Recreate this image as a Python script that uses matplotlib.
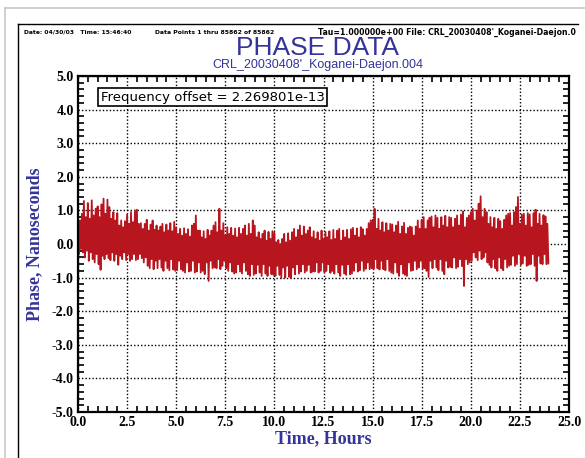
import numpy as np
import matplotlib
matplotlib.use("Agg")
import matplotlib.pyplot as plt
from matplotlib.ticker import MultipleLocator

# ---------------- data ----------------
x_ticks = [0.0, 2.5, 5.0, 7.5, 10.0, 12.5, 15.0, 17.5, 20.0, 22.5, 25.0]
y_ticks = [5.0, 4.0, 3.0, 2.0, 1.0, 0.0, -1.0, -2.0, -3.0, -4.0, -5.0]

# upper excursions of the phase trace, every 0.1 h (one row per hour), ns
spike_hi = [
    0.95, 0.70, 0.90, 1.28, 0.80, 1.22, 0.75, 1.30, 0.85, 1.05,
    1.12, 0.80, 1.18, 1.35, 0.90, 1.32, 1.10, 0.75, 0.95, 0.70,
    0.92, 0.55, 0.70, 0.50, 0.68, 0.88, 0.60, 0.95, 0.65, 1.00,
    1.02, 0.60, 0.62, 0.45, 0.60, 0.72, 0.40, 0.58, 0.70, 0.42,
    0.55, 0.40, 0.52, 0.60, 0.35, 0.58, 0.40, 0.62, 0.38, 0.66,
    0.50, 0.30, 0.45, 0.25, 0.47, 0.30, 0.44, 0.22, 0.55, 0.60,
    0.85, 0.40, 0.40, 0.20, 0.38, 0.15, 0.42, 0.25, 0.40, 0.55,
    0.65, 0.35, 1.05, 0.40, 0.62, 0.25, 0.50, 0.30, 0.48, 0.25,
    0.46, 0.20, 0.48, 0.30, 0.45, 0.55, 0.25, 0.60, 0.30, 0.70,
    0.55, 0.20, 0.35, 0.15, 0.30, 0.40, 0.10, 0.36, 0.15, 0.38,
    0.34, 0.05, 0.12, 0.00, 0.15, 0.30, 0.05, 0.32, 0.10, 0.35,
    0.45, 0.20, 0.42, 0.55, 0.25, 0.52, 0.30, 0.40, 0.50, 0.20,
    0.38, 0.15, 0.35, 0.10, 0.40, 0.15, 0.36, 0.20, 0.38, 0.12,
    0.42, 0.15, 0.40, 0.45, 0.10, 0.40, 0.20, 0.42, 0.15, 0.44,
    0.48, 0.25, 0.46, 0.20, 0.50, 0.44, 0.25, 0.45, 0.62, 0.70,
    0.72, 1.05, 0.45, 0.75, 0.40, 0.65, 0.35, 0.62, 0.40, 0.60,
    0.58, 0.35, 0.55, 0.66, 0.30, 0.52, 0.63, 0.30, 0.48, 0.52,
    0.50, 0.25, 0.52, 0.70, 0.45, 0.72, 0.80, 0.45, 0.70, 0.78,
    0.82, 0.50, 0.85, 0.78, 0.45, 0.80, 0.55, 0.84, 0.50, 0.80,
    0.78, 0.50, 0.75, 0.85, 0.55, 0.88, 0.97, 0.50, 0.78, 0.85,
    0.95, 1.05, 0.70, 1.00, 1.20, 1.42, 0.80, 1.05, 0.95, 0.60,
    0.80, 0.50, 0.78, 0.45, 0.75, 0.68, 0.45, 0.72, 0.85, 0.90,
    0.92, 0.55, 0.95, 1.10, 1.40, 0.60, 0.88, 0.90, 0.55, 0.92,
    0.88, 0.50, 0.92, 1.02, 0.60, 0.90, 0.55, 0.86, 0.82, 0.60,
]
# lower excursions, every 0.1 h (one row per hour), ns
spike_lo = [
    -0.30, -0.15, -0.25, -0.40, -0.20, -0.50, -0.25, -0.45, -0.55, -0.30,
    -0.60, -0.77, -0.35, -0.45, -0.30, -0.42, -0.48, -0.25, -0.50, -0.30,
    -0.62, -0.35, -0.45, -0.25, -0.48, -0.30, -0.50, -0.45, -0.30, -0.48,
    -0.45, -0.30, -0.42, -0.55, -0.40, -0.65, -0.72, -0.45, -0.75, -0.50,
    -0.72, -0.45, -0.70, -0.80, -0.50, -0.72, -0.78, -0.45, -0.76, -0.80,
    -0.78, -0.50, -0.75, -0.80, -0.85, -0.55, -0.82, -0.80, -0.50, -0.85,
    -0.82, -0.55, -0.85, -0.80, -0.90, -0.55, -1.10, -0.50, -0.72, -0.70,
    -0.72, -0.45, -0.75, -0.65, -0.50, -0.72, -0.80, -0.55, -0.82, -0.88,
    -0.85, -0.60, -0.82, -0.88, -0.55, -0.80, -0.90, -0.95, -0.60, -0.92,
    -0.88, -0.62, -0.85, -0.95, -0.60, -0.88, -0.95, -0.65, -0.90, -0.92,
    -0.95, -0.65, -0.92, -1.02, -0.70, -1.00, -0.65, -0.98, -1.02, -0.70,
    -0.90, -0.60, -0.88, -0.82, -0.60, -0.85, -0.80, -0.62, -0.85, -0.82,
    -0.82, -0.55, -0.85, -0.80, -0.55, -0.84, -0.80, -0.60, -0.86, -0.80,
    -0.88, -0.60, -0.85, -0.95, -0.62, -0.88, -0.92, -0.60, -0.90, -0.88,
    -0.80, -0.55, -0.82, -0.78, -0.50, -0.80, -0.74, -0.55, -0.75, -0.72,
    -0.74, -0.45, -0.72, -0.76, -0.50, -0.75, -0.78, -0.45, -0.80, -0.85,
    -0.88, -0.55, -0.85, -0.95, -0.60, -0.88, -0.92, -0.95, -0.55, -0.80,
    -0.78, -0.50, -0.75, -0.70, -0.50, -0.74, -0.72, -0.80, -0.98, -0.50,
    -0.72, -0.45, -0.70, -0.78, -0.45, -0.80, -0.90, -0.50, -0.70, -0.68,
    -0.70, -0.40, -0.72, -0.68, -0.45, -0.66, -1.25, -0.45, -0.60, -0.55,
    -0.50, -0.25, -0.40, -0.48, -0.20, -0.45, -0.40, -0.25, -0.55, -0.62,
    -0.70, -0.45, -0.72, -0.80, -0.40, -0.72, -0.78, -0.45, -0.70, -0.65,
    -0.62, -0.35, -0.65, -0.60, -0.30, -0.62, -0.58, -0.35, -0.65, -0.62,
    -0.60, -0.30, -0.65, -1.10, -0.35, -0.58, -0.60, -0.30, -0.60, -0.58,
]
sample_t = np.arange(len(spike_hi)) * 0.1  # sample times, hours

header_left = "Date: 04/30/03   Time: 15:46:40"
header_mid = "Data Points 1 thru 85862 of 85862"
header_right = "Tau=1.000000e+00 File: CRL_20030408'_Koganei-Daejon.0"
title = "PHASE DATA"
subtitle = "CRL_20030408'_Koganei-Daejon.004"
offset_label = "Frequency offset = 2.269801e-13"

# trace: alternate each upper excursion with the following lower one
trace_t = np.column_stack([sample_t, sample_t + 0.05]).ravel()
trace_v = np.column_stack([spike_hi, spike_lo]).ravel()

# ---------------- drawing ----------------
W, H = 585, 458
fig = plt.figure(figsize=(W / 100, H / 100), dpi=100)
fig.patch.set_facecolor("white")

# page frame
fig.add_artist(plt.Line2D([5 / W, 584 / W], [1 - 8 / H, 1 - 8 / H], color="#c8c8c8", lw=1.2))
fig.add_artist(plt.Line2D([5 / W, 5 / W], [0, 1 - 8 / H], color="#c8c8c8", lw=1.2))
fig.add_artist(plt.Line2D([18 / W, 18 / W], [0, 1 - 24 / H], color="black", lw=1.0))
fig.add_artist(plt.Line2D([18 / W, 578 / W], [1 - 24 / H, 1 - 24 / H], color="black", lw=1.0))

blue = "#34349a"
red = "#b8161f"

ax = fig.add_axes([78 / W, 1 - 412 / H, (569 - 78) / W, (412 - 76) / H])
ax.set_xlim(0, 25)
ax.set_ylim(-5, 5)

ax.plot(trace_t, trace_v, color=red, lw=1.3, zorder=3)

ax.set_xticks(x_ticks)
ax.set_yticks(y_ticks)
ax.set_xticklabels([f"{v:.1f}" for v in x_ticks])
ax.set_yticklabels([f"{v:.1f}" for v in y_ticks])
ax.xaxis.set_minor_locator(MultipleLocator(0.5))
ax.yaxis.set_minor_locator(MultipleLocator(0.2))
ax.tick_params(which="both", direction="in", top=True, right=True, width=1.2, colors="black")
ax.tick_params(which="major", length=0, pad=3)
ax.tick_params(which="minor", length=4)
for lab in ax.get_xticklabels() + ax.get_yticklabels():
    lab.set_fontfamily("Liberation Serif")
    lab.set_fontweight("bold")
    lab.set_fontsize(10)
ax.grid(True, which="major", color="black", linestyle=(0, (1, 1.5)), lw=1.0, zorder=1)
for s in ax.spines.values():
    s.set_linewidth(1.6)
    s.set_zorder(5)

ax.set_xlabel("Time, Hours", fontfamily="Liberation Serif", fontweight="bold",
              fontsize=13, color=blue, labelpad=1)
ax.set_ylabel("Phase, Nanoseconds", fontfamily="Liberation Serif", fontweight="bold",
              fontsize=13, color=blue, labelpad=6)

ax.text(0.046, 0.9375, offset_label, transform=ax.transAxes, fontsize=9.5,
        fontfamily="DejaVu Sans", va="center", ha="left", zorder=6,
        bbox=dict(boxstyle="square,pad=0.2", fc="white", ec="black", lw=1.2))

# header and titles
fig.text(24 / W, 1 - 32 / H, header_left, fontsize=4.3, fontweight="bold", va="center", ha="left",
         fontfamily="Liberation Sans Narrow")
fig.text(155 / W, 1 - 32 / H, header_mid, fontsize=4.4, fontweight="bold", va="center", ha="left",
         fontfamily="Liberation Sans Narrow")
fig.text(318 / W, 1 - 32 / H, header_right, fontsize=5.6, fontweight="bold", va="center", ha="left",
         fontfamily="Liberation Sans Narrow")
fig.text(318 / W, 1 - 48 / H, title, fontsize=19, color=blue, va="center", ha="center",
         fontfamily="Liberation Sans")
fig.text(318 / W, 1 - 65 / H, subtitle, fontsize=9, color=blue, va="center", ha="center",
         fontfamily="Liberation Sans")

fig.savefig("out.png", dpi=100)
